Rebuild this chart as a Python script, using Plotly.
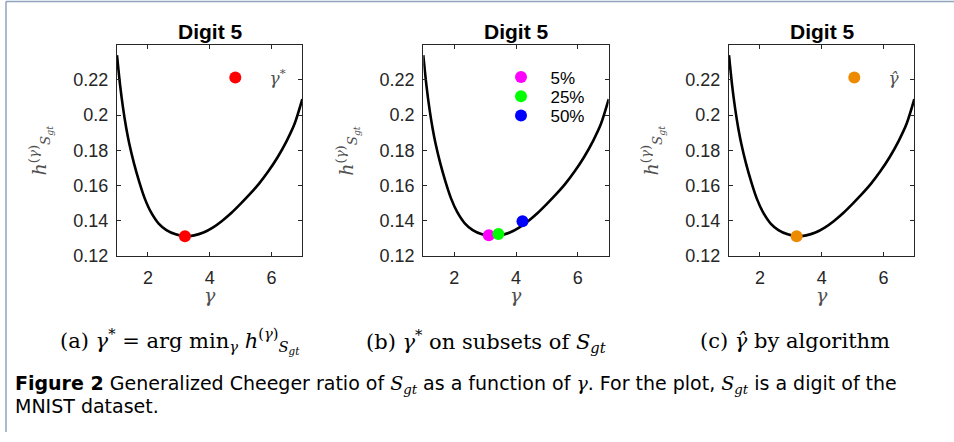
import plotly.graph_objects as go

# ---- data ----
gamma = [1.0, 1.1, 1.2, 1.3, 1.4, 1.55, 1.72, 1.9, 2.1, 2.35, 2.6, 2.9, 3.2, 3.5, 3.8,
         4.1, 4.4, 4.7, 5.0, 5.3, 5.6, 5.9, 6.2, 6.5, 6.75, 7.0]
h_ratio = [0.2340, 0.2170, 0.2035, 0.1925, 0.1835, 0.1725, 0.1620, 0.1525, 0.1448, 0.1383,
           0.1346, 0.1322, 0.1311, 0.1316, 0.1332, 0.1360, 0.1398, 0.1443, 0.1495, 0.1550,
           0.1610, 0.1680, 0.1760, 0.1855, 0.1950, 0.2090]

opt_gamma = [3.2]
opt_h = [0.1311]

subset_labels = ["5%", "25%", "50%"]
subset_gamma = [3.12, 3.43, 4.21]
subset_h = [0.1317, 0.1324, 0.1396]
subset_colors = ["#FF00FF", "#00FF00", "#0000FF"]

algo_gamma = [3.19]
algo_h = [0.1311]

xticks = [2, 4, 6]
yticks = [0.12, 0.14, 0.16, 0.18, 0.2, 0.22]
ytick_text = ["0.12", "0.14", "0.16", "0.18", "0.2", "0.22"]

panel_title = "Digit 5"
captions = [
    "(a) <i>γ</i><sup>*</sup> = arg min<sub><i>γ</i></sub> <i>h</i><sup>(<i>γ</i>)</sup><sub><i>S</i><sub><i>gt</i></sub></sub>",
    "(b) <i>γ</i><sup>*</sup> on subsets of <i>S</i><sub><i>gt</i></sub>",
    "(c) <i>γ̂</i> by algorithm",
]
SERIF = "DejaVu Serif"
fig_caption_lines = [
    ("<b>Figure 2</b> Generalized Cheeger ratio of "
     "<span style='font-family:DejaVu Serif'><i>S</i><sub><i>gt</i></sub></span>"
     " as a function of <span style='font-family:DejaVu Serif'><i>γ</i></span>. For the plot, "
     "<span style='font-family:DejaVu Serif'><i>S</i><sub><i>gt</i></sub></span>"
     " is a digit of the"),
    "MNIST dataset.",
]

W, H = 954, 442
SANS = "Liberation Sans"
AX = "#262626"
LBL = "#505050"

# panel pixel boxes (left, right)
boxes = [(117, 302.3), (423.3, 608.7), (729, 914.3)]
top_px, bot_px = 45.7, 261.7

fig = go.Figure()
xa = ["x", "x2", "x3"]
ya = ["y", "y2", "y3"]

for i in range(3):
    fig.add_trace(go.Scatter(x=gamma, y=h_ratio, mode="lines",
                             line=dict(color="black", width=2.6, shape="spline", smoothing=0.8),
                             xaxis=xa[i], yaxis=ya[i], showlegend=False, hoverinfo="skip"))

NB = "\u00a0"
fig.add_trace(go.Scatter(x=opt_gamma, y=opt_h, mode="markers", marker=dict(color="#FF0000", size=12),
                         name=NB * 3 + "<span style='font-family:DejaVu Serif'><i>γ</i><sup>*</sup></span>",
                         xaxis="x", yaxis="y", legend="legend"))
for j in range(3):
    fig.add_trace(go.Scatter(x=[subset_gamma[j]], y=[subset_h[j]], mode="markers",
                             marker=dict(color=subset_colors[j], size=12),
                             name=NB * 2 + subset_labels[j], xaxis="x2", yaxis="y2",
                             legend="legend%d" % (j + 2)))
fig.add_trace(go.Scatter(x=algo_gamma, y=algo_h, mode="markers", marker=dict(color="#EC8A00", size=12),
                         name=NB * 3 + "<span style='font-family:DejaVu Serif'><i>γ̂</i></span>",
                         xaxis="x3", yaxis="y3", legend="legend5"))

axis_common = dict(showline=True, linecolor=AX, linewidth=1.2, mirror="ticks", ticks="inside",
                   ticklen=4, tickcolor=AX, showgrid=False, zeroline=False,
                   tickfont=dict(family=SANS, size=18, color=AX))

layout = dict(width=W, height=H, autosize=False, margin=dict(l=0, r=0, t=0, b=0),
              paper_bgcolor="white", plot_bgcolor="white", showlegend=True)

ydom = [1 - bot_px / H, 1 - top_px / H]
annotations = []
legend_marker_pos = [(234.3, 76.7), (520, 76.3), (520, 96.0), (520, 115.7), (853.3, 76.7)]
for i in range(3):
    l, r = boxes[i]
    sfx = "" if i == 0 else str(i + 1)
    layout["xaxis" + sfx] = dict(domain=[l / W, r / W], range=[1, 7], tickvals=xticks,
                                 anchor=ya[i], ticklabelstandoff=6, **axis_common)
    layout["yaxis" + sfx] = dict(domain=ydom, range=[0.12, 0.24], tickvals=yticks, ticktext=ytick_text,
                                 anchor=xa[i], ticklabelstandoff=4, **axis_common)
    cx = (l + r) / 2
    annotations.append(dict(text="<b>%s</b>" % panel_title, x=cx / W, y=1 - 32 / H, xref="paper", yref="paper",
                            showarrow=False, xanchor="center", yanchor="middle",
                            font=dict(family=SANS, size=21, color="black")))
    annotations.append(dict(text="<i>γ</i>", x=cx / W, y=1 - 302 / H, xref="paper", yref="paper",
                            showarrow=False, xanchor="center", yanchor="middle",
                            font=dict(family=SERIF, size=19, color=LBL)))
    annotations.append(dict(text="<i>h</i><sup>(<i>γ</i>)</sup><sub><i>S</i><sub><i>gt</i></sub></sub>",
                            x=(l - 76) / W, y=1 - 154 / H, xref="paper", yref="paper", textangle=-90,
                            showarrow=False, xanchor="center", yanchor="middle",
                            font=dict(family=SERIF, size=19, color=LBL)))

cap_centers = [180, 486, 795]
for i in range(3):
    annotations.append(dict(text=captions[i], x=cap_centers[i] / W, y=1 - 349 / H, xref="paper", yref="paper",
                            showarrow=False, xanchor="center", yanchor="middle",
                            font=dict(family=SERIF, size=21, color="black")))
for k, (line, ypx) in enumerate(zip(fig_caption_lines, [393, 415])):
    annotations.append(dict(text=line, x=13 / W, y=1 - ypx / H, xref="paper", yref="paper",
                            showarrow=False, xanchor="left", yanchor="middle", align="left",
                            font=dict(family="DejaVu Sans", size=19, color="black")))
layout["annotations"] = annotations

for k, (mx, my) in enumerate(legend_marker_pos):
    name = "legend" if k == 0 else "legend%d" % (k + 1)
    layout[name] = dict(x=(mx - 19) / W, y=1 - (my + 3) / H, xanchor="left", yanchor="middle",
                        bgcolor="rgba(0,0,0,0)", borderwidth=0,
                        font=dict(family=SANS, size=17, color="black" if k in (1, 2, 3) else LBL))

layout["shapes"] = [
    dict(type="line", xref="paper", yref="paper", x0=6 / W, x1=6 / W, y0=0, y1=1 - 1.5 / H,
         line=dict(color="#8FA3BC", width=1.5)),
    dict(type="line", xref="paper", yref="paper", x0=6 / W, x1=1, y0=1 - 1.5 / H, y1=1 - 1.5 / H,
         line=dict(color="#8FA3BC", width=1.5)),
]

fig.update_layout(**layout)
fig.write_html("out.html", config={"displayModeBar": False, "responsive": False},
               post_script="document.body.style.margin='0px';")
